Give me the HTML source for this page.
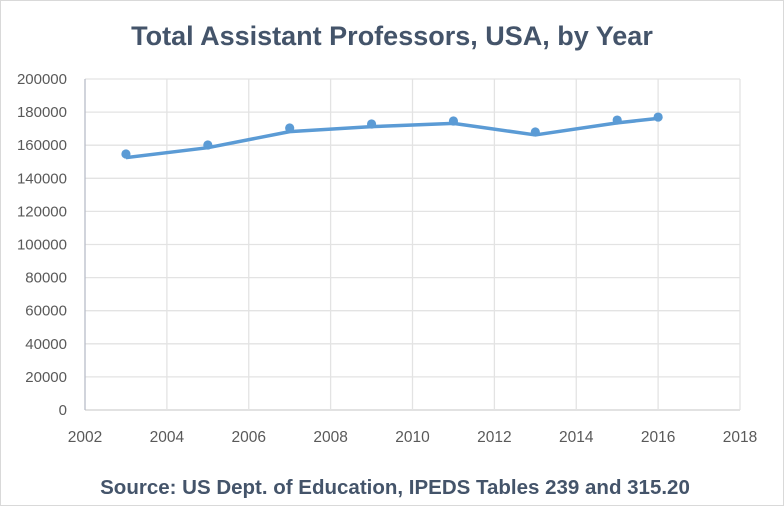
<!DOCTYPE html>
<html><head><meta charset="utf-8"><style>
body{margin:0;background:#fff;}
svg{display:block;font-family:"Liberation Sans",sans-serif;}
</style></head><body>
<svg id="chart" width="784" height="506">
<rect x="0.5" y="0.5" width="783" height="505" fill="#fff" stroke="#d9d9d9"/>
<text x="392" y="45" text-anchor="middle" font-size="27" font-weight="bold" fill="#44546a">Total Assistant Professors, USA, by Year</text>
<text x="395" y="494" text-anchor="middle" font-size="20.5" font-weight="bold" fill="#44546a">Source: US Dept. of Education, IPEDS Tables 239 and 315.20</text>
<g id="grid"></g><g id="axes"></g><g id="series"></g>
</svg>
<script>
const years=[2003,2005,2007,2009,2011,2013,2015,2016];
const dotValues=[154700,160100,170400,172800,174600,168000,175200,177000];
const lineValues=[152500,158500,168200,171200,173200,166200,173500,176200];
const yTicks=[0,20000,40000,60000,80000,100000,120000,140000,160000,180000,200000];
const xTicks=[2002,2004,2006,2008,2010,2012,2014,2016,2018];
const NS="http://www.w3.org/2000/svg";
const xS=v=>85+(v-2002)*(740-85)/16;
const yS=v=>410-v*(410-79)/200000;
function mk(tag,attrs,parent,txt){const e=document.createElementNS(NS,tag);for(const k in attrs)e.setAttribute(k,attrs[k]);if(txt!=null)e.textContent=txt;parent.appendChild(e);return e;}
const g=document.getElementById('grid'),a=document.getElementById('axes'),s=document.getElementById('series');
yTicks.forEach(t=>{
 const l=mk('line',{x1:85,x2:740,y1:yS(t),y2:yS(t),stroke:t===0?'#d0d0d0':'#e3e3e3','stroke-width':1.3},g);
 
 
 const tx=mk('text',{x:67,y:yS(t)+5,'text-anchor':'end','font-size':15,fill:'#595959'},a,String(t));
 
 
});
xTicks.forEach(t=>{
 const l=mk('line',{x1:xS(t),x2:xS(t),y1:79,y2:410,stroke:t===2002?'#b8bcc8':'#e3e3e3','stroke-width':1.3},g);
 
 
 const tx=mk('text',{x:xS(t),y:442,'text-anchor':'middle','font-size':15.5,fill:'#595959'},a,String(t));
 
 
});
const pl=mk('polyline',{points:years.map((y,i)=>xS(y)+','+yS(lineValues[i])).join(' '),fill:'none',stroke:'#5b9bd5','stroke-width':3.5,'stroke-linejoin':'round'},s);


years.forEach((y,i)=>{
 const c=mk('circle',{cx:xS(y),cy:yS(dotValues[i]),r:4.6,fill:'#5b9bd5'},s);
 
 
});
</script>
</body></html>
